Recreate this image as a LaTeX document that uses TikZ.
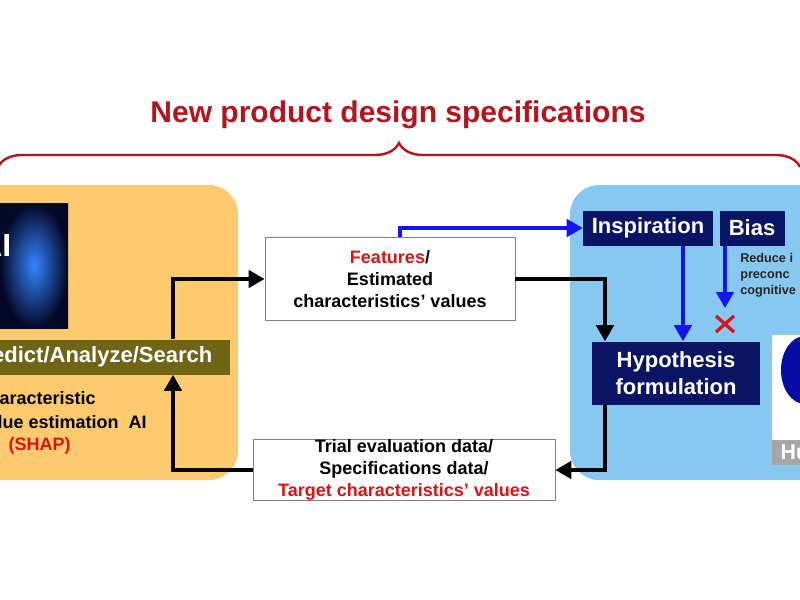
\documentclass[tikz,border=0pt]{standalone}
\usepackage{fontspec}
\setmainfont{Liberation Sans}
\usetikzlibrary{arrows.meta,decorations.pathreplacing}
\definecolor{dred}{RGB}{180,20,30}
\definecolor{tred}{RGB}{220,20,20}
\definecolor{orng}{RGB}{253,202,110}
\definecolor{lblue}{RGB}{135,200,240}
\definecolor{navy}{RGB}{10,20,100}
\definecolor{olive}{RGB}{112,100,22}
\definecolor{bblue}{RGB}{20,20,240}
\tikzset{
 blk/.style={draw=black,line width=2.8pt,-{Triangle[length=12pt,width=13pt]}},
 blu/.style={draw=bblue,line width=2.8pt,-{Triangle[length=12pt,width=13pt]}},
 wbox/.style={draw=gray,fill=white,line width=0.6pt},
 nbox/.style={fill=navy,text=white,font=\bfseries\fontsize{16.5}{20}\selectfont,align=center,inner sep=0pt},
 txt/.style={font=\bfseries\fontsize{13.5}{16.5}\selectfont,align=center,inner sep=0pt}
}
\begin{document}
\begin{tikzpicture}[x=0.75pt,y=-0.75pt]
\useasboundingbox (0,0) rectangle (800,600);
\clip (0,0) rectangle (800,600);
\fill[white] (0,0) rectangle (800,600);
\node[text=dred,font=\bfseries\fontsize{22.5}{26}\selectfont] (title) at (398,115) {New product design specifications};
\draw[dred,line width=1.8pt,decorate,decoration={brace,amplitude=18pt}] (-2,167) -- (800,167);
% left box
\fill[orng,rounded corners=22pt] (-30,185) rectangle (238,480);
\shade[inner color=blue!60!cyan!80,outer color=navy!40!black] (0,203) rectangle (68,328);
\node[text=white,font=\bfseries\fontsize{24}{26}\selectfont,anchor=east] (ai) at (16,245) {AI};
\node[fill=olive,minimum height=35*0.75pt,minimum width=240*0.75pt,inner sep=0pt] (bar) at (110,357) {};
\node[text=white,font=\bfseries\fontsize{16.5}{20}\selectfont,anchor=east] (bartxt) at (217,357) {Predict/Analyze/Search};
\node[txt,anchor=east] (l1) at (96,398) {Characteristic};
\node[txt,anchor=east] (l2) at (147,422) {value estimation\ \ AI};
\node[txt,anchor=east,text=tred] (l3) at (71,446) {(SHAP)};
% right box
\fill[lblue,rounded corners=22pt] (570,185) rectangle (830,480);
\node[nbox,minimum width=130*0.75pt,minimum height=35*0.75pt] (insp) at (648,228) {Inspiration};
\node[nbox,minimum width=65*0.75pt,minimum height=35*0.75pt] (bias) at (752,228) {Bias};
\node[nbox,minimum width=168*0.75pt,minimum height=63*0.75pt] (hyp) at (676,373) {Hypothesis\\formulation};
\fill[white] (772,335) rectangle (800,465);
\fill[gray!70] (772,440) rectangle (800,465);
\fill[navy!60!blue] (805,370) ellipse (24*0.75pt and 34*0.75pt);
\node[text=white,font=\bfseries\fontsize{16}{19}\selectfont,anchor=west] (hu) at (776,452) {Hu};
\node[font=\bfseries\fontsize{9.5}{12}\selectfont,align=left,anchor=north west,inner sep=0pt,text=black!85] (red) at (740,253) {Reduce i\\preconc\\cognitive};
\draw[tred,line width=2.5pt] (716,316) -- (734,332) (716,332) -- (734,316);
% middle boxes
\node[wbox,txt,minimum width=250*0.75pt,minimum height=83*0.75pt] (f) at (390,279) {{\color{tred}Features}/\\Estimated\\characteristics’ values};
\node[wbox,txt,minimum width=302*0.75pt,minimum height=58*0.75pt] (t) at (404,470) {Trial evaluation data/\\Specifications data/\\{\color{tred}Target characteristics’ values}};
% arrows
\draw[blk] (bar.north -| 173,0) |- (f.west);
\draw[blk] (f.east) -| (hyp.north -| 605,0);
\draw[blk] (hyp.south -| 605,0) |- (t.east);
\draw[blk] (t.west) -| (bar.south -| 173,0);
\draw[blu] (f.north -| 400,0) |- (insp.west);
\draw[blu] (insp.south -| 683,0) -- (hyp.north -| 683,0);
\coordinate (bt) at (725,308);
\draw[blu] (bias.south -| 725,0) -- (bt);
\end{tikzpicture}
\end{document}
